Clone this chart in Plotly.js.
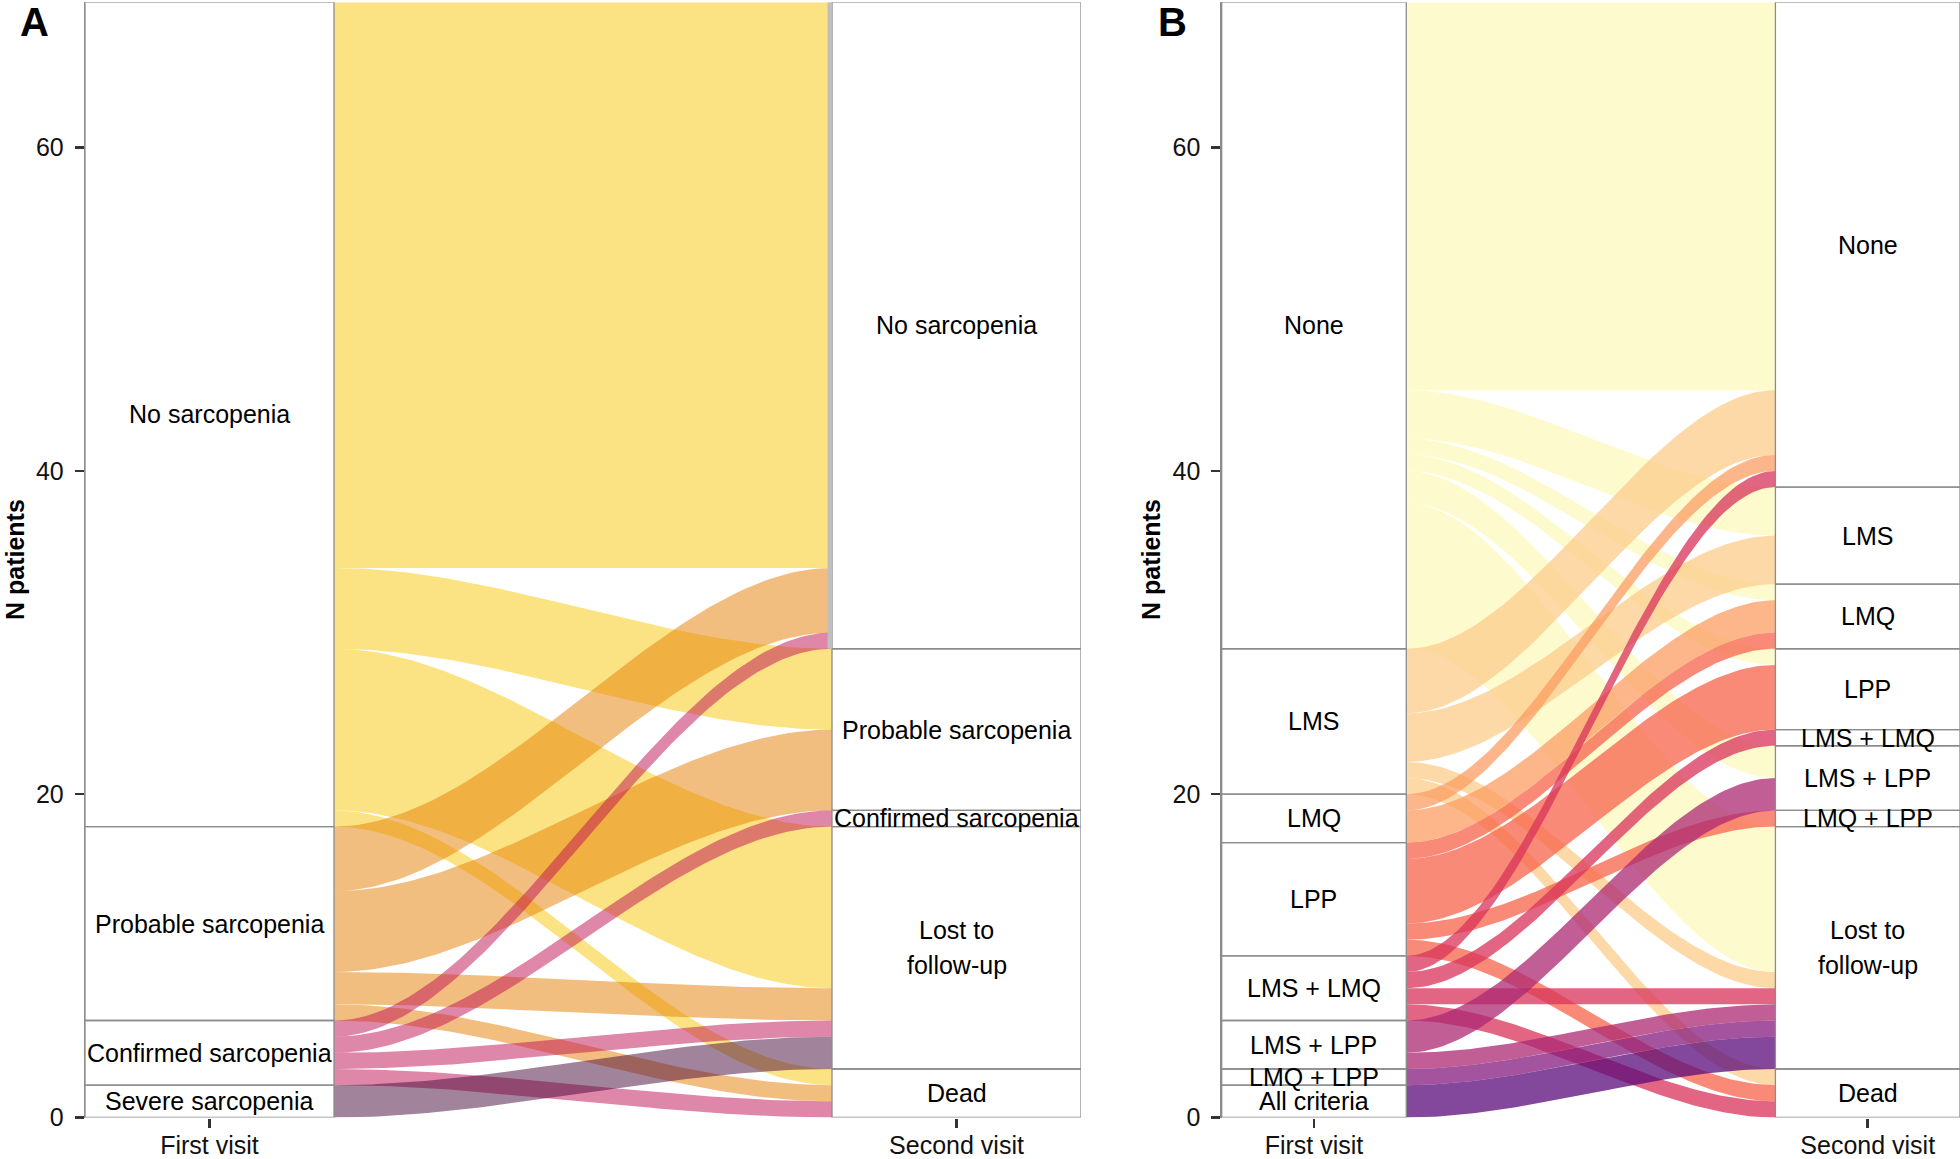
<!DOCTYPE html>
<html>
<head>
<meta charset="utf-8">
<script src="https://cdn.plot.ly/plotly-3.0.1.min.js"></script>
<style>html,body{margin:0;padding:0;background:#fff;}#chart{width:1960px;height:1159px;}</style>
</head>
<body>
<div id="chart"></div>
<script>
// ---------- Panel A data ----------
const firstA  = ["No sarcopenia", "Probable sarcopenia", "Confirmed sarcopenia", "Severe sarcopenia"];
const secondA = ["No sarcopenia", "Probable sarcopenia", "Confirmed sarcopenia", "Lost to<br>follow-up", "Dead"];
const flowFromA = [0, 0, 0, 0,  1, 1, 1, 1,  2, 2, 2, 2,  3];
const flowToA   = [0, 1, 3, 4,  0, 1, 3, 4,  0, 2, 3, 4,  3];
const flowNA    = [35, 5, 10, 1, 4, 5, 2, 1, 1, 1, 1, 1, 2];

// ---------- Panel B data ----------
const firstB  = ["None", "LMS", "LMQ", "LPP", "LMS + LMQ", "LMS + LPP", "LMQ + LPP", "All criteria"];
const secondB = ["None", "LMS", "LMQ", "LPP", "LMS + LMQ", "LMS + LPP", "LMQ + LPP", "Lost to<br>follow-up", "Dead"];
const flowFromB = [0, 0, 0, 0, 0, 0,  1, 1, 1, 1,  2, 2,  3, 3, 3, 3,  4, 4, 4, 4,  5, 5,  6,  7];
const flowToB   = [0, 1, 2, 3, 5, 7,  0, 1, 7, 8,  0, 2,  2, 3, 6, 8,  0, 4, 7, 8,  5, 7,  7,  7];
const flowNB    = [24, 3, 1, 1, 2, 9, 4, 3, 1, 1, 1, 2, 1, 4, 1, 1, 1, 1, 1, 1, 2, 1, 1, 2];

const axisLabels = ["First visit", "Second visit"];
const yTicks = [0, 20, 40, 60];

// ---------- styles ----------
const coloursA = ["rgba(247,199,7,0.5)", "rgba(229,125,1,0.5)", "rgba(191,15,81,0.5)", "rgba(67,7,55,0.5)"];
const coloursB = ["rgba(252,250,188,0.75)", "rgba(252,204,139,0.75)", "rgba(251,158,99,0.75)", "rgba(247,99,75,0.75)",
                  "rgba(216,51,90,0.75)", "rgba(172,40,115,0.75)", "rgba(134,26,126,0.75)", "rgba(90,11,122,0.75)"];

const W = 1960, H = 1159;
const FONT = "Liberation Sans, Arial, Helvetica, sans-serif";
const HALF = 1 / 6;           // half stratum width (axis units)
const BOX_LINE = "#8c8c8c";
const LABEL_SIZE = 25;
const LINE_GAP = 35;          // px between label lines

function computeLodes(first, second, from, to, n) {
  const total = n.reduce((a, b) => a + b, 0);
  const fTot = first.map((_, i) => n.reduce((s, v, k) => s + (from[k] === i ? v : 0), 0));
  const sTot = second.map((_, j) => n.reduce((s, v, k) => s + (to[k] === j ? v : 0), 0));
  const fBounds = [], sBounds = [];
  let c = total;
  fTot.forEach(t => { fBounds.push([c - t, c]); c -= t; });
  c = total;
  sTot.forEach(t => { sBounds.push([c - t, c]); c -= t; });
  const left = new Array(n.length), right = new Array(n.length);
  first.forEach((_, i) => {
    let cur = fBounds[i][1];
    const idx = n.map((_, k) => k).filter(k => from[k] === i).sort((a, b) => to[a] - to[b]);
    idx.forEach(k => { left[k] = [cur - n[k], cur]; cur -= n[k]; });
  });
  second.forEach((_, j) => {
    let cur = sBounds[j][1];
    const idx = n.map((_, k) => k).filter(k => to[k] === j).sort((a, b) => from[a] - from[b]);
    idx.forEach(k => { right[k] = [cur - n[k], cur]; cur -= n[k]; });
  });
  return { total, fBounds, sBounds, left, right };
}

function ribbon(l, r, xa, ya, colour) {
  const x0 = 1 + HALF, x1 = 2 - HALF, N = 80;
  const xs = [], ys = [];
  for (let i = 0; i <= N; i++) {
    const s = i / N, h = 3 * s * s - 2 * s * s * s;
    xs.push(x0 + (x1 - x0) * s); ys.push(l[1] + (r[1] - l[1]) * h);
  }
  for (let i = N; i >= 0; i--) {
    const s = i / N, h = 3 * s * s - 2 * s * s * s;
    xs.push(x0 + (x1 - x0) * s); ys.push(l[0] + (r[0] - l[0]) * h);
  }
  return { type: "scatter", mode: "lines", x: xs, y: ys, fill: "toself", fillcolor: colour,
           line: { width: 0 }, hoverinfo: "skip", showlegend: false, xaxis: xa, yaxis: ya };
}

const traces = [], shapes = [], annotations = [];

function panel(first, second, from, to, n, colours, xa, ya, xref, yref) {
  const L = computeLodes(first, second, from, to, n);
  n.forEach((_, k) => traces.push(ribbon(L.left[k], L.right[k], xa, ya, colours[from[k]])));
  const addBox = (xc, b, label) => {
    shapes.push({ type: "rect", xref, yref, x0: xc - HALF, x1: xc + HALF, y0: b[0], y1: b[1],
                  fillcolor: "rgba(255,255,255,0)", line: { color: BOX_LINE, width: 1.3 }, layer: "above" });
    const lines = label.split("<br>");
    lines.forEach((txt, li) => {
      annotations.push({ xref, yref, x: xc, y: (b[0] + b[1]) / 2, text: txt, showarrow: false,
                         yshift: ((lines.length - 1) / 2 - li) * LINE_GAP,
                         font: { family: FONT, size: LABEL_SIZE, color: "#000" }, xanchor: "center", yanchor: "middle" });
    });
  };
  first.forEach((lab, i) => addBox(1, L.fBounds[i], lab));
  second.forEach((lab, j) => addBox(2, L.sBounds[j], lab));
  return L;
}

const LA = panel(firstA, secondA, flowFromA, flowToA, flowNA, coloursA, "x", "y", "x", "y");
panel(firstB, secondB, flowFromB, flowToB, flowNB, coloursB, "x2", "y2", "x2", "y2");

// thin grey sliver seen at the flow end of the "No sarcopenia" second-visit stratum (panel A)
shapes.push({ type: "rect", xref: "x", yref: "y", x0: 2 - HALF - 0.006, x1: 2 - HALF,
              y0: LA.sBounds[0][0], y1: LA.sBounds[0][1], fillcolor: "#bfbfbf", line: { width: 0 }, layer: "above" });

// panel letters and y titles
annotations.push({ xref: "paper", yref: "paper", x: 18 / W, y: 1 - 22 / H, text: "<b>A</b>", showarrow: false,
                   xanchor: "left", yanchor: "middle", font: { family: FONT, size: 40, color: "#000" } });
annotations.push({ xref: "paper", yref: "paper", x: 1156 / W, y: 1 - 22 / H, text: "<b>B</b>", showarrow: false,
                   xanchor: "left", yanchor: "middle", font: { family: FONT, size: 40, color: "#000" } });
annotations.push({ xref: "paper", yref: "paper", x: 15 / W, y: 1 - 560 / H, text: "<b>N patients</b>", showarrow: false,
                   textangle: -90, xanchor: "center", yanchor: "middle", font: { family: FONT, size: 25, color: "#000" } });
annotations.push({ xref: "paper", yref: "paper", x: 1151 / W, y: 1 - 560 / H, text: "<b>N patients</b>", showarrow: false,
                   textangle: -90, xanchor: "center", yanchor: "middle", font: { family: FONT, size: 25, color: "#000" } });

const yDom = [41.5 / H, (H - 2.2) / H];
function xAxis(domain) {
  return { domain, range: [1 - HALF, 2 + HALF], tickvals: [1, 2], ticktext: axisLabels, ticks: "outside",
           ticklen: 9, tickwidth: 2.5, tickcolor: "#333", showline: false, showgrid: false, zeroline: false,
           ticklabelstandoff: -4, tickfont: { family: FONT, size: 25, color: "#111" }, fixedrange: true };
}
function yAxis(domain, anchor) {
  return { domain, anchor, range: [0, 69], tickvals: yTicks, ticks: "outside", ticklen: 9, tickwidth: 2.5,
           tickcolor: "#333", showline: true, linecolor: BOX_LINE, linewidth: 1.3, showgrid: false, zeroline: false,
           ticklabelstandoff: 6, tickfont: { family: FONT, size: 25, color: "#111" }, fixedrange: true };
}

const layout = {
  width: W, height: H, margin: { l: 0, r: 0, t: 0, b: 0 },
  paper_bgcolor: "#fff", plot_bgcolor: "#fff", showlegend: false,
  xaxis: Object.assign(xAxis([85 / W, 1081 / W]), { anchor: "y" }),
  yaxis: yAxis(yDom, "x"),
  xaxis2: Object.assign(xAxis([1221.7 / W, 1]), { anchor: "y2" }),
  yaxis2: yAxis(yDom, "x2"),
  shapes, annotations
};

Plotly.newPlot("chart", traces, layout, { staticPlot: true, displayModeBar: false });
</script>
</body>
</html>
